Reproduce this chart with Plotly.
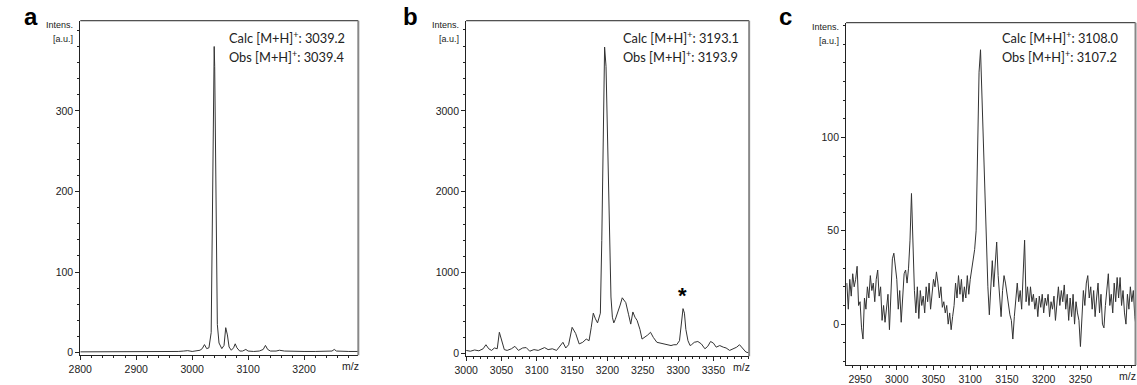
import plotly.graph_objects as go

W, H = 1137, 385

# ---- Panel a: m/z vs intensity (peak near 3039) ----
mz_a = [2800, 2830, 2860, 2890, 2920, 2950, 2975, 2985, 2992, 3000, 3008, 3014,
        3018, 3022, 3026, 3030, 3034, 3036, 3037.5, 3038.7, 3039.4, 3040.3, 3041.5,
        3043, 3045, 3048, 3053, 3057, 3060, 3063, 3066, 3070, 3074, 3077, 3080,
        3085, 3090, 3096, 3100, 3110, 3120, 3127, 3131, 3135, 3140, 3150, 3156,
        3165, 3180, 3200, 3220, 3240, 3250, 3254, 3258, 3280, 3297]
int_a = [1, 1, 1.5, 1, 1.5, 1, 1.5, 2, 2.5, 1.5, 2, 3,
         5, 10, 5, 6, 25, 150, 310, 365, 380, 355, 250,
         110, 35, 12, 5, 9, 31, 22, 7, 3, 6, 11, 6,
         2, 2, 4, 2, 1.5, 2, 4, 9, 4, 2, 2, 3,
         2, 1.5, 1.5, 1.5, 2, 2, 4, 2, 1.5, 1.5]

# ---- Panel b: m/z vs intensity (peak near 3194, starred peak near 3306) ----
mz_b = [3000, 3006, 3012, 3018, 3024, 3028, 3032, 3036, 3040, 3044, 3047, 3050,
        3054, 3058, 3064, 3069, 3074, 3080, 3085, 3090, 3096, 3102, 3108, 3111,
        3116, 3122, 3128, 3133, 3137, 3141, 3145, 3150, 3155, 3160, 3165, 3170,
        3174, 3177, 3180, 3183, 3186, 3188, 3190, 3192, 3194, 3196, 3198, 3200,
        3201.5, 3203, 3205, 3207, 3209, 3211, 3214, 3218, 3221, 3224, 3226, 3230,
        3233, 3236, 3239, 3242, 3246, 3249, 3253, 3257, 3261, 3265, 3270, 3275,
        3280, 3284, 3290, 3294, 3298, 3302, 3305, 3307, 3309, 3311, 3314, 3317,
        3319, 3323, 3328, 3333, 3338, 3342, 3346, 3350, 3354, 3359, 3364, 3368,
        3373, 3378, 3383, 3387, 3392, 3396, 3400]
int_b = [40, 30, 45, 35, 60, 110, 60, 40, 70, 60, 264, 170,
         50, 40, 60, 90, 40, 70, 75, 30, 50, 40, 70, 75,
         50, 60, 40, 90, 140, 70, 110, 325, 250, 120, 140, 180,
         160, 320, 500, 430, 380, 440, 500, 1400, 2900, 3788, 3550, 2600,
         1900, 1300, 700, 450, 380, 420, 490, 600, 690, 650, 630, 480,
         365, 515, 450, 410, 300, 180, 200, 230, 264, 200, 140, 130,
         120, 110, 100, 110, 110, 160, 400, 556, 500, 300, 160, 100,
         110, 140, 150, 120, 60, 90, 150, 130, 80, 100, 80, 70,
         40, 60, 80, 110, 60, 20, 10]

# ---- Panel c: m/z vs intensity (noisy trace, peak near 3108) ----
mz_c = list(range(2932, 3328, 2))
int_c = [22, 8, 24, 15, 27, 20, 24, 31, 10, 12,
         -2, -8, 14, 8, 20, 14, 26, 18, 22, 12,
         24, 29, 15, 20, 2, 10, 1, 8, 16, -3,
         22, 35, 38, 30, 24, 8, 18, 1, 14, 27,
         29, 22, 30, 45, 70, 38, 18, 6, 20, 3,
         18, 10, 15, 6, 20, 12, 22, 8, 18, 24,
         20, 28, 22, 14, 20, 9, 12, 6, 10, 0,
         6, -3, 4, 10, 22, 14, 26, 16, 24, 12,
         20, 14, 26, 16, 24, 30, 34, 40, 50, 95,
         135, 147, 120, 100, 70, 40, 20, 5, 18, 34,
         20, 36, 44, 26, 14, 4, 18, 26, 22, 16,
         10, 5, 2, -8, 4, 14, 22, 12, 18, 8,
         30, 45, 12, 20, 10, 20, 12, 16, 8, 14,
         4, 15, 9, 16, 6, 14, 10, 16, 4, 12,
         8, 15, 2, 12, 20, 10, 18, 12, 21, 8,
         16, 2, 14, 4, 16, 0, 12, 6, 2, -12,
         6, 18, 10, 22, 26, 14, 20, 8, 18, 4,
         14, 22, 6, 16, 0, -2, 10, 20, 27, 10,
         16, 6, 22, 12, 25, 14, 25, 10, 18, 6,
         0, 16, 8, 20, 12, 18, 4, -2]

panel_letters = ["a", "b", "c"]
calc_vals = ["3039.2", "3193.1", "3108.0"]
obs_vals = ["3039.4", "3193.9", "3107.2"]

xtick_a = [2800, 2900, 3000, 3100, 3200]
xtick_b = [3000, 3050, 3100, 3150, 3200, 3250, 3300, 3350]
xtick_c = [2950, 3000, 3050, 3100, 3150, 3200, 3250]
ytick_a = [0, 100, 200, 300]
ytick_b = [0, 1000, 2000, 3000]
ytick_c = [0, 50, 100]


def px(x):
    return x / W


def py(y):
    return 1 - y / H


# plot boxes in pixel coordinates: left, right, top, bottom
boxes = [(69, 350, 21, 360), (459, 745, 21, 361), (843, 1135.5, 23, 370)]
letter_x = [10, 393, 773]
text_x = [217, 616, 999]
xranges = [[2800, 3297], [3000, 3400.6], [2931, 3325]]
yranges = [[-3.3, 412], [-33, 4113], [-22, 161.5]]
xminor = [20, 10, 10]
yminor = [20, 200, 10]
xticks = [xtick_a, xtick_b, xtick_c]
yticks = [ytick_a, ytick_b, ytick_c]
series = [(mz_a, int_a), (mz_b, int_b), (mz_c, int_c)]

AX = "#222222"
tickfont = dict(family="Arial", size=10.5, color=AX)

fig = go.Figure()
layout = dict(
    width=W, height=H, margin=dict(l=0, r=0, t=0, b=0),
    paper_bgcolor="white", plot_bgcolor="white", showlegend=False,
)
annotations = []
shapes = []

for i in range(3):
    n = "" if i == 0 else str(i + 1)
    l, r, t, b = boxes[i]
    xs, ys = series[i]
    fig.add_trace(go.Scatter(
        x=xs, y=ys, mode="lines", xaxis="x" + n, yaxis="y" + n,
        line=dict(color="#333333", width=1), hoverinfo="skip",
    ))
    layout["xaxis" + n] = dict(
        domain=[px(l), px(r)], range=xranges[i], anchor="y" + n,
        showgrid=False, zeroline=False, showline=True, linecolor=AX, linewidth=1,
        ticks="outside", ticklen=4, tickwidth=1, tickcolor=AX,
        tickmode="array", tickvals=xticks[i], tickfont=tickfont,
        minor=dict(ticks="outside", ticklen=2, tickcolor=AX, dtick=xminor[i],
                   tick0=0, showgrid=False),
    )
    layout["yaxis" + n] = dict(
        domain=[py(b), py(t)], range=yranges[i], anchor="x" + n,
        showgrid=False, zeroline=False, showline=True, linecolor=AX, linewidth=1,
        ticks="outside", ticklen=4, tickwidth=1, tickcolor=AX,
        tickmode="array", tickvals=yticks[i], tickfont=tickfont,
        minor=dict(ticks="outside", ticklen=2, tickcolor=AX, dtick=yminor[i],
                   tick0=0, showgrid=False),
    )
    # top and right edges of the frame
    shapes.append(dict(type="line", xref="paper", yref="paper",
                       x0=px(l), x1=px(r), y0=py(t), y1=py(t),
                       line=dict(color=AX, width=1)))
    shapes.append(dict(type="line", xref="paper", yref="paper",
                       x0=px(r), x1=px(r), y0=py(t), y1=py(b),
                       line=dict(color="#888888", width=2)))
    # panel letter
    annotations.append(dict(
        x=px(letter_x[i]), y=py(17), xref="paper", yref="paper",
        text="<b>%s</b>" % panel_letters[i], showarrow=False,
        xanchor="left", yanchor="middle",
        font=dict(family="Arial", size=24, color="black"),
    ))
    # y-axis unit label
    annotations.append(dict(
        x=px(l - 5), y=py(t + 4), xref="paper", yref="paper",
        text="Intens.", showarrow=False, xanchor="right", yanchor="middle",
        font=dict(family="Arial", size=9, color=AX),
    ))
    annotations.append(dict(
        x=px(l - 5), y=py(t + 19), xref="paper", yref="paper",
        text="[a.u.]", showarrow=False, xanchor="right", yanchor="middle",
        font=dict(family="Arial", size=9, color=AX),
    ))
    # m/z label at the end of the x axis
    annotations.append(dict(
        x=px(r - 8), y=py(b + 11), xref="paper", yref="paper",
        text="m/z", showarrow=False, xanchor="center", yanchor="middle",
        font=dict(family="Arial", size=10.5, color=AX),
    ))
    # calculated / observed mass labels
    annotations.append(dict(
        x=px(text_x[i]), y=py(38), xref="paper", yref="paper",
        text="Calc [M+H]<sup>+</sup>: %s" % calc_vals[i], showarrow=False,
        xanchor="left", yanchor="middle",
        font=dict(family="Lato", size=12.8, color="#222222"),
    ))
    annotations.append(dict(
        x=px(text_x[i]), y=py(57), xref="paper", yref="paper",
        text="Obs [M+H]<sup>+</sup>: %s" % obs_vals[i], showarrow=False,
        xanchor="left", yanchor="middle",
        font=dict(family="Lato", size=12.8, color="#222222"),
    ))

# asterisk marking the side peak in panel b
annotations.append(dict(
    x=3306, y=720, xref="x2", yref="y2", text="<b>*</b>", showarrow=False,
    xanchor="center", yanchor="middle",
    font=dict(family="Arial", size=22, color="black"),
))

layout["annotations"] = annotations
layout["shapes"] = shapes
fig.update_layout(**layout)
fig.write_html("out.html")
